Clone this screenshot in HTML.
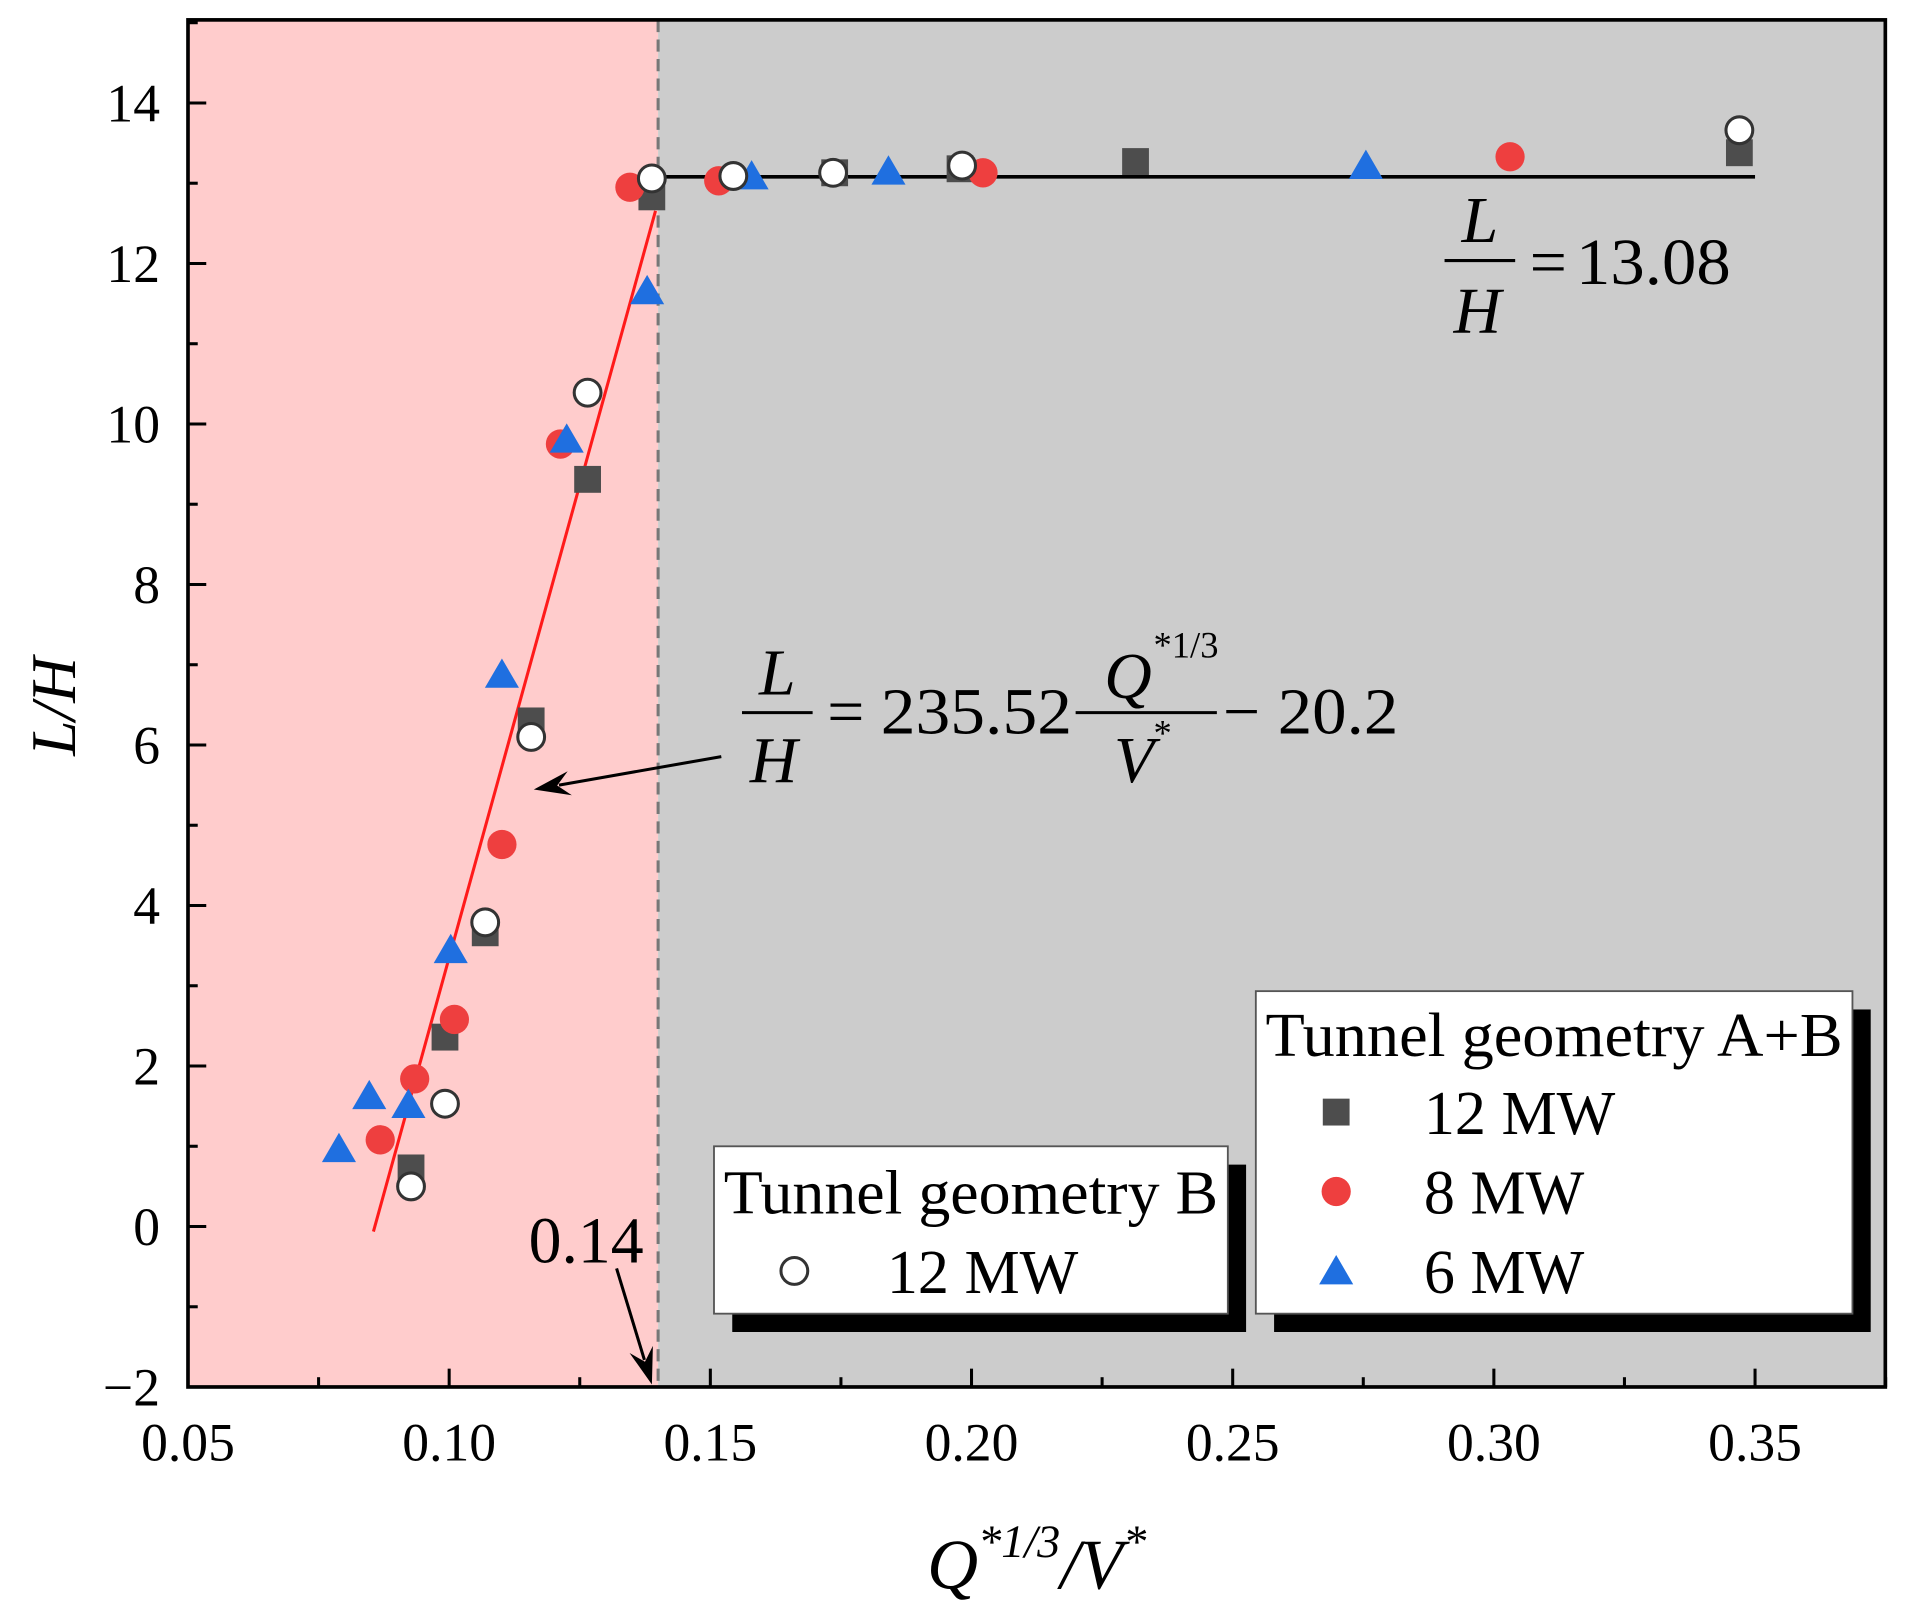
<!DOCTYPE html>
<html><head><meta charset="utf-8"><style>
html,body{margin:0;padding:0;background:#fff;}
svg{display:block;}
text{font-family:"Liberation Serif","DejaVu Serif",serif;fill:#000;}
</style></head><body>
<svg id="chart" width="1912" height="1624" viewBox="0 0 1912 1624">
<g id="root" transform="translate(1.7,-2.1) scale(1.2176,1.2217)">
</g>
</svg>
<script>
// ---- data ----
const xTicks = [0.05,0.10,0.15,0.20,0.25,0.30,0.35];
const xTickLabels = ["0.05","0.10","0.15","0.20","0.25","0.30","0.35"];
const yTicks = [-2,0,2,4,6,8,10,12,14];
const yTickLabels = ["\u22122","0","2","4","6","8","10","12","14"];
const sq12X = [0.0927,0.0992,0.1069,0.1157,0.1265,0.1388,0.1738,0.1978,0.2314,0.347];
const sq12Y = [0.73,2.36,3.66,6.3,9.31,12.83,13.13,13.18,13.27,13.38];
const red8X = [0.0868,0.0934,0.101,0.1101,0.1213,0.1346,0.1516,0.2022,0.3031];
const red8Y = [1.08,1.84,2.58,4.76,9.75,12.95,13.03,13.13,13.33];
const tri6X = [0.0789,0.0847,0.0922,0.1003,0.1101,0.1225,0.1379,0.1579,0.1841,0.2755];
const tri6Y = [0.97,1.63,1.52,3.45,6.88,9.81,11.66,13.09,13.15,13.22];
const openBX = [0.0927,0.0992,0.1069,0.1157,0.1265,0.1388,0.1544,0.1735,0.1982,0.347];
const openBY = [0.50,1.53,3.79,6.1,10.39,13.06,13.09,13.13,13.22,13.66];
const fitSlope = 235.52, fitIntercept = -20.2;
const fitRange = [0.0855,0.1395];
const plateau = 13.08;
const plateauRange = [0.139,0.35];
const threshold = 0.14;

// ---- axes (display coordinate space) ----
const X = v => 153 + (v-0.05)*4290;
const Y = v => 86 + (14-v)*65.69;
const L = 153, R = 1547, T = 18, B = 1137;
const NS = "http://www.w3.org/2000/svg";
const root = document.getElementById('root');
function mk(tag, attrs, parent){
  const e = document.createElementNS(NS, tag);
  for (const k in attrs) e.setAttribute(k, attrs[k]);
  (parent||root).appendChild(e);
  return e;
}

let e;
e = mk('rect',{x:L,y:T,width:X(threshold)-L,height:B-T,fill:'#ffcccc'});


e = mk('rect',{x:X(threshold),y:T,width:R-X(threshold),height:B-T,fill:'#cccccc'});



function legendBox(x1,y1,x2,y2,name){
  const g = mk('g',{});
  
  
  mk('rect',{x:x1+15,y:y1+15,width:x2-x1,height:y2-y1,fill:'#000'},g);
  mk('rect',{x:x1,y:y1,width:x2-x1,height:y2-y1,fill:'#fff',stroke:'#555','stroke-width':1.5},g);
  return g;
}
const lgB = legendBox(585,940,1007,1077,'legend-geometry-b');
const lgAB = legendBox(1030,813,1520,1077,'legend-geometry-ab');

e = mk('line',{x1:X(threshold),y1:T,x2:X(threshold),y2:B,stroke:'#777','stroke-width':2.5,'stroke-dasharray':'10,6'});



e = mk('line',{x1:X(fitRange[0]),y1:Y(fitSlope*fitRange[0]+fitIntercept),x2:X(fitRange[1]),y2:Y(fitSlope*fitRange[1]+fitIntercept),stroke:'#ff1a1a','stroke-width':2.5});


e = mk('line',{x1:X(plateauRange[0]),y1:Y(plateau),x2:X(plateauRange[1]),y2:Y(plateau),stroke:'#000','stroke-width':3});



function square(cx,cy,g){ return mk('rect',{x:cx-11,y:cy-11,width:22,height:22,fill:'#4d4d4d'},g); }
function circ(cx,cy,g){ return mk('circle',{cx:cx,cy:cy,r:12,fill:'#ee3f3f'},g); }
function tri(cx,cy,g){ return mk('polygon',{points:`${cx},${cy-13} ${cx-14},${cy+11} ${cx+14},${cy+11}`,fill:'#1f6fe0'},g); }
function ocirc(cx,cy,g){ return mk('circle',{cx:cx,cy:cy,r:11,fill:'#fff',stroke:'#333','stroke-width':2.5},g); }

let g;
g = mk('g',{});


sq12X.forEach((v,i)=>{ const m=square(X(v),Y(sq12Y[i]),g);
  
   });
g = mk('g',{});


red8X.forEach((v,i)=>{ const m=circ(X(v),Y(red8Y[i]),g);
  
   });
g = mk('g',{});


tri6X.forEach((v,i)=>{ const m=tri(X(v),Y(tri6Y[i]),g);
  
   });
g = mk('g',{});


openBX.forEach((v,i)=>{ const m=ocirc(X(v),Y(openBY[i]),g);
  
   });

function txt(x,y,s,size,parent,extra){
  const t = mk('text',Object.assign({x:x,y:y,'font-size':size},extra||{}),parent);
  t.textContent = s; return t;
}
txt(593,995,'Tunnel geometry B',51,lgB,{textLength:406,lengthAdjust:'spacingAndGlyphs'});
ocirc(651,1042,lgB); txt(727,1060,'12 MW',51,lgB);
txt(1038,866,'Tunnel geometry A+B',51,lgAB,{textLength:474,lengthAdjust:'spacingAndGlyphs'});
square(1096,912,lgAB); txt(1168,930,'12 MW',51,lgAB);
circ(1096,977,lgAB); txt(1168,995,'8 MW',51,lgAB);
tri(1096,1042,lgAB); txt(1168,1060,'6 MW',51,lgAB);

e = mk('rect',{x:L,y:T,width:R-L,height:B-T,fill:'none',stroke:'#000','stroke-width':3});



g = mk('g',{});


for (let v=0.05; v<=0.3751; v+=0.025){
  const major = Math.abs(Math.round(v*20)-v*20)<1e-6;
  mk('line',{x1:X(v),y1:B,x2:X(v),y2:B-(major?15:8),stroke:'#000','stroke-width':2.5},g);
}
xTicks.forEach((v,i)=>{ const t=txt(X(v),1197,xTickLabels[i],44,g,{'text-anchor':'middle'});
  
   });
g = mk('g',{});


for (let v=-2; v<=15; v+=1){
  const major = v%2===0;
  if (Y(v)<T) continue;
  mk('line',{x1:L,y1:Y(v),x2:L+(major?15:8),y2:Y(v),stroke:'#000','stroke-width':2.5},g);
}
yTicks.forEach((v,i)=>{ const t=txt(130,Y(v)+15,yTickLabels[i],44,g,{'text-anchor':'end'});
  
   });

e = mk('text',{x:0,y:0,'font-size':52,'font-style':'italic','text-anchor':'middle',transform:'translate(60,580) rotate(-90)'});
e.textContent='L/H';


e = mk('text',{x:850,y:1302,'font-size':58,'font-style':'italic','text-anchor':'middle'});
e.innerHTML='Q<tspan dy="-26" font-size="38">*1/3</tspan><tspan dy="26">/V</tspan><tspan dy="-26" font-size="38">*</tspan>';



// plateau equation
g = mk('g',{});


txt(1214,200,'L',54,g,{'font-style':'italic','text-anchor':'middle'});
mk('line',{x1:1185,y1:215,x2:1243,y2:215,stroke:'#000','stroke-width':2.5},g);
txt(1212,274,'H',54,g,{'font-style':'italic','text-anchor':'middle'});
txt(1255,234,'=',54,g);
txt(1293,234,'13.08',54,g,{textLength:127,lengthAdjust:'spacingAndGlyphs'});

// fit equation
g = mk('g',{});


txt(637,570,'L',54,g,{'font-style':'italic','text-anchor':'middle'});
mk('line',{x1:608,y1:585,x2:666,y2:585,stroke:'#000','stroke-width':2.5},g);
txt(634,642,'H',54,g,{'font-style':'italic','text-anchor':'middle'});
txt(678,602,'=',54,g);
txt(722,602,'235.52',54,g,{textLength:157,lengthAdjust:'spacingAndGlyphs'});
txt(925,573,'Q',54,g,{'font-style':'italic','text-anchor':'middle'});
txt(946,540,'*1/3',30,g);
mk('line',{x1:882,y1:585,x2:998,y2:585,stroke:'#000','stroke-width':2.5},g);
txt(930,642,'V',54,g,{'font-style':'italic','text-anchor':'middle'});
txt(946,612,'*',30,g);
txt(1003,602,'\u2212',54,g);
txt(1048,602,'20.2',54,g,{textLength:99,lengthAdjust:'spacingAndGlyphs'});

function arrow(x1,y1,x2,y2,name){
  const a = mk('g',{});
  
  
  const ang = Math.atan2(y2-y1,x2-x1), hl=30, hw=10;
  const bx = x2-hl*Math.cos(ang), by = y2-hl*Math.sin(ang);
  mk('line',{x1:x1,y1:y1,x2:bx+hl*0.3*Math.cos(ang),y2:by+hl*0.3*Math.sin(ang),stroke:'#000','stroke-width':2.5},a);
  const px=-Math.sin(ang)*hw, py=Math.cos(ang)*hw;
  mk('polygon',{points:`${x2},${y2} ${bx+px},${by+py} ${bx+hl*0.35*Math.cos(ang)},${by+hl*0.35*Math.sin(ang)} ${bx-px},${by-py}`,fill:'#000'},a);
}
arrow(591,621,437,648,'fit-arrow');
arrow(505,1040,534,1135,'threshold-arrow');
e = txt(480,1035,'0.14',54,root,{'text-anchor':'middle'});


</script>
</body></html>
